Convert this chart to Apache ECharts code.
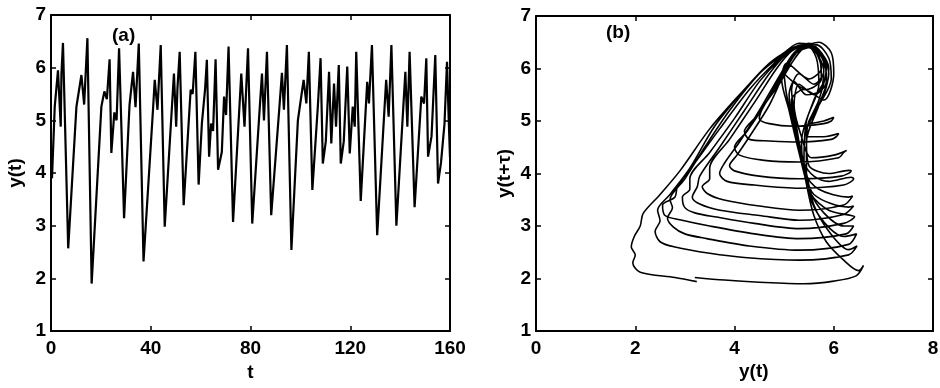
<!DOCTYPE html>
<html><head><meta charset="utf-8">
<script src="https://cdn.jsdelivr.net/npm/echarts@6/dist/echarts.min.js"></script>
<style>html,body{margin:0;padding:0;background:#fff}#c{width:940px;height:388px}</style>
</head><body><div id="c"></div>
<script>
// Panel (a): time series y(t), read at turning points
const tValues = [0,0.4,1.5,2.8,3.9,4.2,4.8,6.9,10.2,11,12.2,13.3,14.6,16.3,20.2,21.4,22.4,23.5,24.2,25.4,26.3,27.3,29.3,31.5,32.9,33.9,35.2,37.1,40.9,41.6,42.7,44,45.6,49.3,50.2,50.7,51.6,53.2,56,56.8,57.9,59.2,60.5,61.8,62.5,63.4,64.2,65.0,66,67,68.5,69.4,70.2,71.2,73,76.3,77.6,79,80.7,84.6,85.4,86.6,88.3,91.7,92.6,93.4,94.6,96.4,99,100.5,101.3,102.4,103.4,104.8,107,108.1,109,110.2,111.5,112.4,113.5,114.3,115.4,116.2,117.4,118.8,119.8,121,121.8,122.4,124.2,126.8,127.5,128.7,130.8,134.4,135.4,136.5,138.5,142.1,142.9,143.8,145.8,148.5,149.6,150.5,151.2,152.6,154.1,155.2,156.4,157.8,158.8,159.5,160];
const yValues = [4.0,3.9,5.26,5.95,4.88,5.9,6.47,2.57,5.26,5.5,5.86,5.3,6.56,1.9,5.26,5.55,5.4,6.16,4.38,5.15,5.0,6.37,3.14,5.3,5.92,5.25,6.46,2.32,5.2,5.77,5.2,6.43,2.98,5.89,4.88,5.6,6.3,3.39,5.58,5.5,6.3,3.78,4.94,5.6,6.15,4.31,4.94,4.8,6.16,4.06,4.4,5.45,5.1,6.4,3.07,5.89,4.88,6.37,3.04,5.89,5.0,6.3,3.2,5.32,5.9,5.2,6.43,2.54,5.0,5.5,5.77,5.32,6.3,3.68,5.26,6.18,4.18,4.6,5.92,4.56,5.7,4.88,6.05,4.18,4.6,6.02,4.37,5.26,4.88,6.3,3.47,5.73,5.32,6.43,2.82,5.77,5.07,6.43,3.0,5.92,4.88,6.3,3.35,5.45,5.32,6.18,4.31,4.7,6.24,3.8,4.2,4.94,6.11,5.0,4.3];

// Panel (b): trajectory y(t+tau) vs y(t), traced cycle by cycle
const phaseCycle1 = [[3.24,1.94],[2.8,2.02],[2.1,2.12],[1.95,2.3],[2.0,2.45],[1.92,2.6],[1.98,2.8],[2.1,3.0],[2.16,3.24],[2.5,3.6],[2.9,4.05],[3.5,4.85],[4.1,5.5],[4.6,6.0],[5.0,6.3],[5.3,6.48],[5.6,6.42],[5.8,6.1],[5.75,5.6],[5.45,5.5],[5.2,5.75],[5.1,5.5],[5.25,4.8],[5.45,4.0],[5.6,3.4],[5.9,2.9],[6.3,2.55],[6.47,2.62]];
const phaseCycle2 = [[6.3,2.45],[5.3,2.35],[4.2,2.4],[3.5,2.48],[2.8,2.6],[2.5,2.7],[2.4,2.9],[2.5,3.1],[2.45,3.3],[2.7,3.6],[3.1,4.1],[3.6,4.9],[4.2,5.6],[4.7,6.1],[5.1,6.35],[5.4,6.45],[5.7,6.3],[5.85,5.9],[5.6,5.4],[5.35,4.6],[5.45,3.8],[5.7,3.2],[6.2,2.8],[6.46,2.85]];
const phaseCycle3 = [[6.3,2.65],[5.3,2.54],[4.3,2.62],[3.44,2.76],[3.0,2.85],[2.77,2.98],[2.65,3.15],[2.75,3.35],[2.7,3.5],[3.0,3.9],[3.4,4.5],[3.9,5.2],[4.5,5.9],[4.95,6.25],[5.25,6.42],[5.55,6.4],[5.75,6.0],[5.5,5.8],[5.05,6.1],[4.95,5.8],[5.1,5.2],[5.3,4.4],[5.5,3.7],[5.8,3.25],[6.2,3.0],[6.4,3.0]];
const phaseCycle4 = [[6.25,2.85],[5.3,2.76],[4.4,2.85],[3.5,3.0],[2.9,3.12],[2.6,3.2],[2.55,3.4],[2.8,3.55],[2.85,3.75],[3.2,4.2],[3.7,4.85],[4.3,5.6],[4.8,6.1],[5.15,6.38],[5.45,6.45],[5.65,6.2],[5.7,5.7],[5.45,5.0],[5.4,4.2],[5.55,3.6],[5.9,3.3],[6.35,3.2],[6.42,3.18]];
const phaseCycle5 = [[6.2,3.05],[5.3,2.95],[4.4,3.05],[3.64,3.17],[3.2,3.25],[3.0,3.35],[2.95,3.55],[3.1,3.7],[3.1,3.9],[3.5,4.4],[4.0,5.05],[4.5,5.75],[4.95,6.2],[5.3,6.42],[5.6,6.35],[5.8,5.95],[5.6,5.7],[5.3,5.9],[5.15,5.6],[5.25,4.9],[5.4,4.1],[5.6,3.6],[6.3,3.36],[6.4,3.38]];
const phaseCycle6 = [[6.2,3.22],[5.3,3.11],[4.5,3.2],[3.71,3.3],[3.3,3.42],[3.15,3.55],[3.25,3.75],[3.3,3.95],[3.7,4.5],[4.2,5.2],[4.7,5.9],[5.05,6.28],[5.35,6.45],[5.65,6.35],[5.85,6.0],[5.7,5.4],[5.45,4.8],[5.45,4.0],[5.7,3.7],[6.3,3.55],[6.38,3.57]];
const phaseCycle7 = [[6.2,3.4],[5.3,3.3],[4.5,3.38],[3.77,3.5],[3.45,3.62],[3.35,3.75],[3.5,3.9],[3.5,4.1],[3.9,4.65],[4.4,5.35],[4.85,6.0],[5.15,6.33],[5.45,6.45],[5.7,6.25],[5.75,5.8],[5.45,5.6],[5.0,5.9],[5.05,5.5],[5.25,4.7],[5.4,4.2],[5.6,3.95],[5.9,3.85],[6.35,3.93],[6.4,3.9]];
const phaseCycle8 = [[6.2,3.78],[5.3,3.72],[4.4,3.78],[3.85,3.85],[3.7,4.0],[3.8,4.2],[4.1,4.6],[4.5,5.2],[4.9,5.85],[5.2,6.3],[5.5,6.48],[5.75,6.3],[5.9,5.9],[5.7,5.3],[5.45,4.6],[5.5,4.15],[5.9,4.0],[6.3,4.06],[6.35,4.05]];
const phaseCycle9 = [[6.15,3.95],[5.3,3.9],[4.5,3.95],[4.0,4.05],[3.9,4.15],[4.05,4.35],[4.3,4.7],[4.7,5.3],[5.0,5.9],[5.25,6.3],[5.55,6.4],[5.8,6.2],[5.85,5.75],[5.6,5.5],[5.3,5.7],[5.2,5.3],[5.35,4.7],[5.55,4.3],[6.0,4.35],[6.26,4.44],[6.2,4.4]];
const phaseCycle10 = [[6.1,4.3],[5.3,4.22],[4.6,4.25],[4.1,4.35],[4.0,4.5],[4.25,4.8],[4.6,5.3],[4.9,5.8],[5.15,6.2],[5.4,6.45],[5.7,6.35],[5.9,6.0],[5.8,5.5],[5.5,5.0],[5.45,4.7],[5.8,4.7],[6.1,4.76],[6.05,4.7]];
const phaseCycle11 = [[5.95,4.65],[5.3,4.6],[4.7,4.62],[4.3,4.65],[4.2,4.8],[4.45,5.1],[4.8,5.6],[5.1,6.1],[5.35,6.4],[5.65,6.45],[5.9,6.2],[5.95,5.8],[5.7,5.3],[5.5,4.95],[5.8,5.0],[6.0,5.07],[5.95,5.0]];
const phaseCycle12 = [[5.8,4.95],[5.2,4.9],[4.7,4.95],[4.5,5.05],[4.6,5.3],[4.9,5.7],[5.15,6.1],[5.4,6.4],[5.7,6.5],[5.95,6.3],[6.0,5.9],[5.8,5.4],[5.4,5.6],[5.15,5.4],[5.3,4.6],[5.45,3.8],[5.6,3.2],[5.85,2.7],[6.2,2.35],[6.5,2.15],[6.6,2.25]];
const phaseCycle13 = [[6.45,2.05],[6.0,1.95],[5.4,1.9],[4.5,1.93],[3.8,1.97],[3.2,2.02]];

const xTicksA = [0, 40, 80, 120, 160];
const xTicksB = [0, 2, 4, 6, 8];
const yTicks = [1, 2, 3, 4, 5, 6, 7];

const FONT = "'Liberation Sans', Arial, Helvetica, sans-serif";
const FS = 19;
const FW = 'bold';
const seriesA = tValues.map((t, i) => [t, yValues[i]]);
const seriesB = [].concat(phaseCycle1, phaseCycle2, phaseCycle3, phaseCycle4, phaseCycle5, phaseCycle6,
  phaseCycle7, phaseCycle8, phaseCycle9, phaseCycle10, phaseCycle11, phaseCycle12, phaseCycle13);

function axis(grid, pos, ticks, opts) {
  const o = {
    type: 'value', gridIndex: grid, position: pos,
    min: ticks[0], max: ticks[ticks.length - 1], interval: ticks[1] - ticks[0],
    axisLine: { show: true, onZero: false, lineStyle: { color: '#000', width: 2 } },
    axisTick: { show: true, inside: true, length: 5, lineStyle: { color: '#000', width: 1.5 } },
    splitLine: { show: false },
    axisLabel: { show: false }
  };
  return Object.assign(o, opts || {});
}
const lbl = (m) => ({ show: true, color: '#000', fontSize: FS, fontWeight: FW, fontFamily: FONT, margin: m });
const nameStyle = { color: '#000', fontSize: FS, fontWeight: FW, fontFamily: FONT };

const chart = echarts.init(document.getElementById('c'), null, { renderer: 'canvas' });
chart.setOption({
  animation: false,
  backgroundColor: '#fff',
  grid: [
    { left: 51, top: 15, width: 399, height: 316, containLabel: false, outerBoundsMode: 'none' },
    { left: 536, top: 16, width: 397, height: 315, containLabel: false, outerBoundsMode: 'none' }
  ],
  xAxis: [
    axis(0, 'bottom', xTicksA, { axisLabel: lbl(8), name: 't', nameLocation: 'middle', nameGap: 31, nameTextStyle: nameStyle }),
    axis(0, 'top', xTicksA),
    axis(1, 'bottom', xTicksB, { axisLabel: lbl(8) }),
    axis(1, 'top', xTicksB)
  ],
  yAxis: [
    axis(0, 'left', yTicks, { axisLabel: lbl(5), name: 'y(t)', nameLocation: 'middle', nameGap: 26, nameTextStyle: nameStyle }),
    axis(0, 'right', yTicks),
    axis(1, 'left', yTicks, { axisLabel: lbl(5), name: 'y(t+\u03c4)', nameLocation: 'middle', nameGap: 22, nameTextStyle: nameStyle }),
    axis(1, 'right', yTicks)
  ],
  graphic: [
    { type: 'text', left: 112, top: 26, style: { text: '(a)', fill: '#000', font: FW + ' ' + FS + 'px ' + FONT } },
    { type: 'text', left: 606, top: 23, style: { text: '(b)', fill: '#000', font: FW + ' ' + FS + 'px ' + FONT } },
    { type: 'text', left: 739, top: 362, style: { text: 'y(t)', fill: '#000', font: FW + ' ' + FS + 'px ' + FONT } }
  ],
  series: [
    { type: 'line', xAxisIndex: 0, yAxisIndex: 0, data: seriesA, showSymbol: false, smooth: false,
      lineStyle: { color: '#000', width: 2.2 } },
    { type: 'line', xAxisIndex: 2, yAxisIndex: 2, data: seriesB, showSymbol: false, smooth: 0.3,
      lineStyle: { color: '#000', width: 1.6 } }
  ]
});
</script>
</body></html>
